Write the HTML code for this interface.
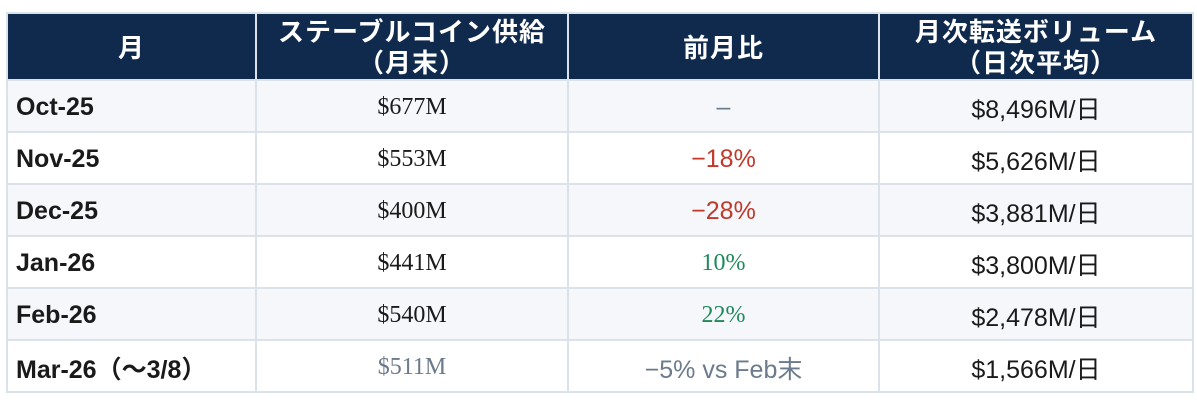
<!DOCTYPE html>
<html><head><meta charset="utf-8"><style>
body{margin:0;background:#fff;width:1197px;height:405px;overflow:hidden}
table{position:absolute;left:6px;top:12px;border-collapse:collapse;width:1186px;table-layout:fixed}
td,th{border:2px solid #dce2ea;padding:0;text-align:center;font-family:"Liberation Sans","Noto Sans CJK JP",sans-serif;font-size:25px;color:#1a1a1a}
th{background:#0f2a4d;color:#fff;font-weight:bold;height:64px;line-height:31px;font-size:26px;letter-spacing:1px;padding-top:3px;height:61px}
td{height:47px;padding-top:3px}
tr:nth-child(even) td{background:#f5f7fb}
td.m{text-align:left;padding-left:8px;font-weight:bold}
td.s{font-family:"Liberation Serif","Noto Serif CJK SC",serif;font-size:24px}
.r{color:#c0392b}.g{color:#1e8a5a;font-family:"Liberation Serif",serif;font-size:24px}.gr{color:#6b7b8c}
</style></head><body>
<table>
<colgroup><col style="width:249px"><col style="width:312px"><col style="width:311px"><col style="width:314px"></colgroup>
<tr><th>月</th><th>ステーブルコイン供給<br>（月末）</th><th>前月比</th><th>月次転送ボリューム<br>（日次平均）</th></tr>
<tr><td class="m">Oct-25</td><td class="s">$677M</td><td class="gr">–</td><td>$8,496M/日</td></tr>
<tr><td class="m">Nov-25</td><td class="s">$553M</td><td class="r">−18%</td><td>$5,626M/日</td></tr>
<tr><td class="m">Dec-25</td><td class="s">$400M</td><td class="r">−28%</td><td>$3,881M/日</td></tr>
<tr><td class="m">Jan-26</td><td class="s">$441M</td><td class="g">10%</td><td>$3,800M/日</td></tr>
<tr><td class="m">Feb-26</td><td class="s">$540M</td><td class="g">22%</td><td>$2,478M/日</td></tr>
<tr><td class="m">Mar-26（～3/8）</td><td class="s gr">$511M</td><td class="gr">−5% vs Feb末</td><td>$1,566M/日</td></tr>
</table>
</body></html>
